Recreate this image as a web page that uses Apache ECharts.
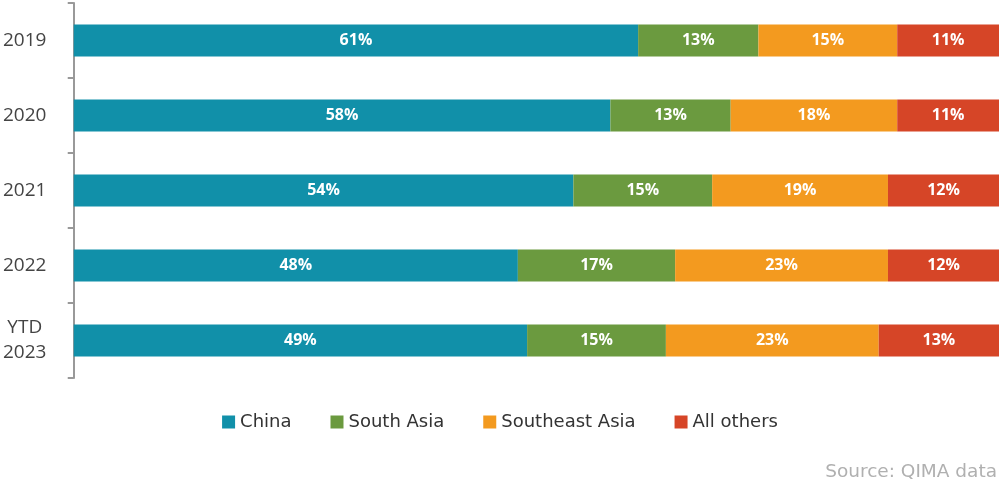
<!DOCTYPE html>
<html>
<head>
<meta charset="utf-8">
<script src="https://cdn.jsdelivr.net/npm/echarts@6/dist/echarts.min.js"></script>
<style>html,body{margin:0;padding:0;background:#fff}#c{width:1000px;height:487px}</style>
</head>
<body>
<div id="c"></div>
<script>
const categories = ['2019', '2020', '2021', '2022', 'YTD\n2023'];
const china = [61, 58, 54, 48, 49];
const southAsia = [13, 13, 15, 17, 15];
const southeastAsia = [15, 18, 19, 23, 23];
const allOthers = [11, 11, 12, 12, 13];
const seriesNames = ['China', 'South Asia', 'Southeast Asia', 'All others'];
const colors = ['#1190a9', '#6b9a3f', '#f39a1f', '#d64527'];
const FONT = '"Open Sans", sans-serif';
const FONT2 = '"DejaVu Sans", sans-serif';

const chart = echarts.init(document.getElementById('c'));
const dataSets = [china, southAsia, southeastAsia, allOthers];
chart.setOption({
  animation: false,
  textStyle: { fontFamily: FONT },
  grid: { left: 73, right: 1, top: 3, bottom: 109, containLabel: false },
  legend: {
    data: seriesNames,
    top: 408,
    left: 'center',
    icon: 'rect',
    itemWidth: 13,
    itemHeight: 13,
    itemGap: 39,
    textStyle: { fontSize: 18, color: '#333', fontFamily: FONT2 }
  },
  xAxis: {
    type: 'value', min: 0, max: 100, show: false
  },
  yAxis: {
    type: 'category',
    data: categories,
    inverse: true,
    axisLine: { show: true, lineStyle: { color: '#999', width: 2 } },
    axisTick: { show: true, length: 6, lineStyle: { color: '#999', width: 2 } },
    axisLabel: { fontSize: 19, color: '#444', align: 'center', margin: 49, lineHeight: 25, fontFamily: FONT }
  },
  series: dataSets.map((d, i) => ({
    name: seriesNames[i],
    type: 'bar',
    stack: 'total',
    data: d,
    barWidth: 32,
    itemStyle: { color: colors[i] },
    label: {
      show: true, position: 'inside', formatter: '{c}%',
      color: '#fff', fontWeight: 'bold', fontSize: 16, fontFamily: FONT
    }
  })),
  graphic: [{
    type: 'text', right: 3, top: 463,
    style: { text: 'Source: QIMA data', fill: '#b0b0b0', fontSize: 18.5, fontFamily: FONT2 }
  }]
});
</script>
</body>
</html>
